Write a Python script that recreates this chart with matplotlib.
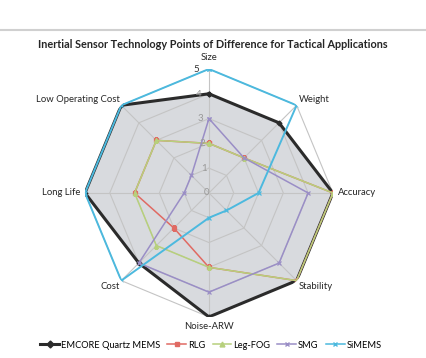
import numpy as np
import matplotlib.pyplot as plt
from matplotlib.lines import Line2D

plt.rcParams["font.family"] = ["Lato", "DejaVu Sans"]

categories = ["Size", "Weight", "Accuracy", "Stability", "Noise-ARW",
              "Cost", "Long Life", "Low Operating Cost"]
emcore = [4, 4, 5, 5, 5, 4, 5, 5]
rlg = [2, 2, 5, 5, 3, 2, 3, 3]
leg_fog = [2, 2, 5, 5, 3, 3, 3, 3]
smg = [3, 2, 4, 4, 4, 4, 1, 1]
simems = [5, 5, 2, 1, 1, 5, 5, 5]
rticks = [0, 1, 2, 3, 4, 5]

series = [
    ("EMCORE Quartz MEMS", emcore, "#2b2b2b", "D", 2.2, 2.5),
    ("RLG", rlg, "#e06a63", "s", 1.1, 3),
    ("Leg-FOG", leg_fog, "#b7d07c", "^", 1.1, 3),
    ("SMG", smg, "#9a8ec6", "x", 1.1, 3),
    ("SiMEMS", simems, "#4cb9de", "x", 1.4, 3),
]

fig = plt.figure(figsize=(4.26, 3.58), dpi=100)
fig.patch.set_facecolor("white")
fig.add_artist(Line2D([0, 1], [1 - 30 / 358] * 2, color="#d0d0d0", lw=1.5))
fig.text(0.5, 1 - 44 / 358, "Inertial Sensor Technology Points of Difference for Tactical Applications",
         ha="center", va="center", fontsize=7.8, fontweight="bold", color="#262626")

ax = fig.add_axes([0.1995, 0.1145, 0.582, 0.693], projection="polar")
ax.set_theta_zero_location("N")
ax.set_theta_direction(-1)
ax.set_ylim(0, 5)
ax.axis("off")

n = len(categories)
theta = np.arange(n) * 2 * np.pi / n
theta_c = np.append(theta, theta[0])

# polygon grid and spokes
for r in rticks[1:]:
    ax.plot(theta_c, [r] * (n + 1), color="#c4c4c4", lw=0.8, zorder=1)
for t in theta:
    ax.plot([t, t], [0, 5], color="#c4c4c4", lw=0.8, zorder=1)

# fill of the EMCORE polygon
ax.fill(theta_c, emcore + emcore[:1], color="#b9bcc4", alpha=0.55, zorder=0, lw=0)

for name, vals, col, mk, lw, ms in series:
    ax.plot(theta_c, vals + vals[:1], color=col, lw=lw, marker=mk, ms=ms,
            mew=0.9, label=name, zorder=3)

for r in rticks:
    ax.text(np.deg2rad(-4.5), r, str(r), ha="right", va="center",
            fontsize=7, color="#333333" if r == 5 else "#999999", zorder=4)

label_pos = [
    (5.45, "center", "center"),
    (5.1, "left", "bottom"),
    (5.2, "left", "center"),
    (5.1, "left", "top"),
    (5.4, "center", "center"),
    (5.1, "right", "top"),
    (5.2, "right", "center"),
    (5.1, "right", "bottom"),
]
for t, lab, (r, ha, va) in zip(theta, categories, label_pos):
    ax.text(t, r, lab, ha=ha, va=va, fontsize=6.8, color="#262626")

handles = [Line2D([], [], color=col, lw=2.2 if i == 0 else 1.1,
                  marker=mk, ms=3.5, mew=1.0)
           for i, (name, vals, col, mk, lw, ms) in enumerate(series)]
fig.legend(handles, [s[0] for s in series], loc="center", bbox_to_anchor=(0.495, 1 - 345 / 358),
           ncol=5, frameon=False, fontsize=6.7, handlelength=2.0, columnspacing=0.8,
           handletextpad=0.2)

fig.savefig("out.png", dpi=100)
